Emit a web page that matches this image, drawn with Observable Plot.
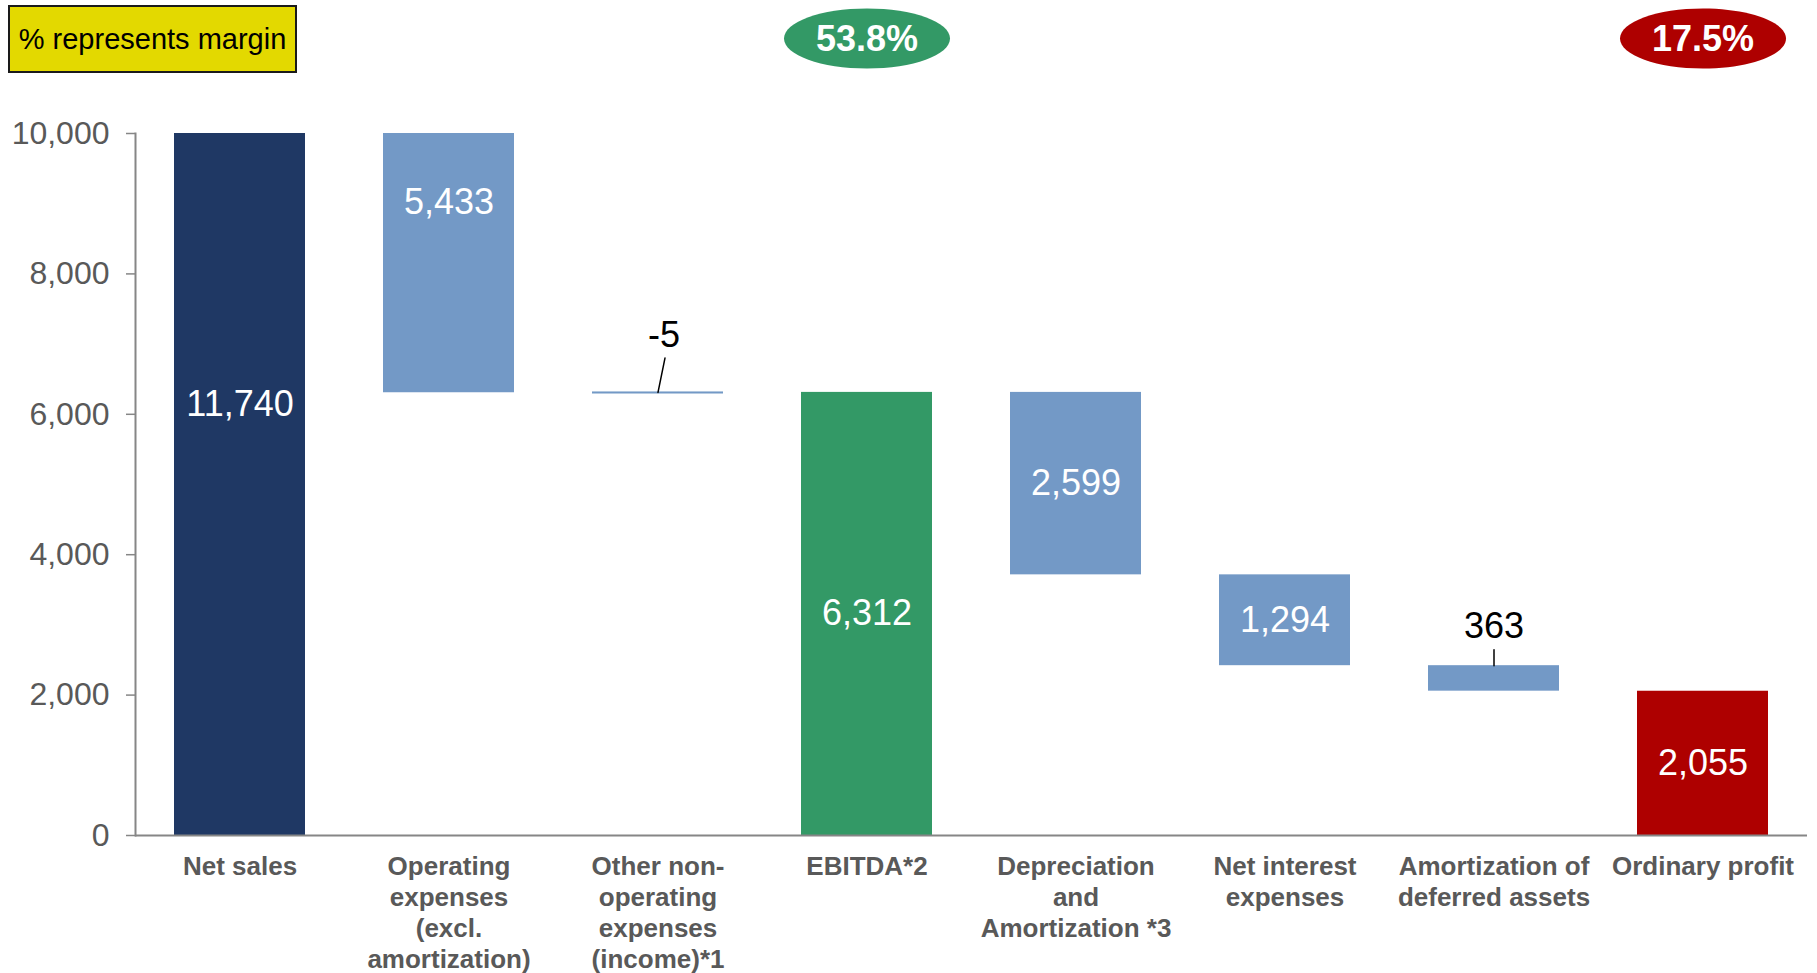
<!DOCTYPE html>
<html>
<head>
<meta charset="utf-8">
<script src="https://cdn.jsdelivr.net/npm/d3@7"></script>
<script src="https://cdn.jsdelivr.net/npm/@observablehq/plot@0.6"></script>
<style>
  html, body { margin: 0; padding: 0; background: #fff; }
  #wrap { position: relative; width: 1817px; height: 973px; font-family: "Liberation Sans", Arial, sans-serif; }
  #legend { position: absolute; left: 8px; top: 5px; width: 289px; height: 68px; box-sizing: border-box;
    border: 2px solid #1a1a1a; background: #E3D900; color: #000; font-size: 29px;
    display: flex; align-items: center; justify-content: center; }
</style>
</head>
<body>
<div id="wrap"><div id="legend">% represents margin</div></div>
<script>
// ---- data ----
const categories = [
  "Net sales",
  "Operating\nexpenses\n(excl.\namortization)",
  "Other non-\noperating\nexpenses\n(income)*1",
  "EBITDA*2",
  "Depreciation\nand\nAmortization *3",
  "Net interest\nexpenses",
  "Amortization of\ndeferred assets",
  "Ordinary profit"
];
const amounts = [11740, 5433, -5, 6312, 2599, 1294, 363, 2055];
const kinds = ["total", "expense", "expense", "subtotal", "expense", "expense", "expense", "result"];
const marginCategories = ["EBITDA*2", "Ordinary profit"];
const marginLabels = ["53.8%", "17.5%"];
const yTicks = [0, 2000, 4000, 6000, 8000, 10000];

// ---- styling (code, not data) ----
const palette = {total: "#1F3864", expense: "#7399C6", subtotal: "#339966", result: "#AE0000"};
const fmt = v => d3.format(",")(v).replace("\u2212", "-");

// waterfall
let running = 0;
const rows = categories.map((cat, i) => {
  let y1, y2;
  if (kinds[i] === "expense") { y1 = running; y2 = running - amounts[i]; running = y2; }
  else { y1 = 0; y2 = amounts[i]; running = amounts[i]; }
  return {cat, kind: kinds[i], y1, y2, mid: (y1 + y2) / 2, top: Math.max(y1, y2),
          label: fmt(amounts[i]), small: Math.abs(y2 - y1) < 500, tiny: Math.abs(y2 - y1) < 50, color: palette[kinds[i]]};
});
const inside = rows.filter(d => !d.small && d.kind !== "total");
const insideFirst = rows.filter(d => !d.small && d.kind === "total");
const callouts = rows.filter(d => d.small);
const calloutStyle = {
  [categories[2]]: {len: 35, angle: 11.5, dx: 6, dy: -45},
  [categories[6]]: {len: 16, angle: 0, dx: 0, dy: -28}
};
const marginRows = marginCategories.map((cat, i) => ({cat, label: marginLabels[i], color: rows.find(r => r.cat === cat).color}));

const ellipse = {draw(ctx) {
  const rx = 83, ry = 30, k = 0.5523;
  ctx.moveTo(rx, 0);
  ctx.bezierCurveTo(rx, ry * k, rx * k, ry, 0, ry);
  ctx.bezierCurveTo(-rx * k, ry, -rx, ry * k, -rx, 0);
  ctx.bezierCurveTo(-rx, -ry * k, -rx * k, -ry, 0, -ry);
  ctx.bezierCurveTo(rx * k, -ry, rx, -ry * k, rx, 0);
  ctx.closePath();
}};
const spike = {draw(ctx, l) { ctx.moveTo(0, 0); ctx.lineTo(0, -l); }};

const chart = Plot.plot({
  width: 1817,
  height: 973,
  marginTop: 133,
  marginBottom: 138,
  marginLeft: 135,
  marginRight: 10,
  style: {fontFamily: "'Liberation Sans', Arial, sans-serif", color: "#595959", background: "#fff"},
  x: {domain: categories, paddingInner: 0.373, paddingOuter: 0.1865, axis: null},
  y: {domain: [0, 10000], clamp: true, axis: null},
  color: {type: "identity"},
  marks: [
    Plot.barY(rows, {x: "cat", y1: "y1", y2: "y2", fill: "color"}),
    Plot.tickY(rows.filter(d => d.tiny), {x: "cat", y: "mid", stroke: "color", strokeWidth: 2}),
    Plot.axisY({ticks: yTicks, tickFormat: fmt, fontSize: 32, tickSize: 9, tickPadding: 17, stroke: "#868686", strokeWidth: 1.5, fill: "#595959", label: null}),
    Plot.frame({anchor: "left", stroke: "#868686", strokeWidth: 2}),
    Plot.ruleY([0], {stroke: "#868686", strokeWidth: 2}),
    Plot.text(categories, {x: d => d, text: d => d, frameAnchor: "bottom", lineAnchor: "top", dy: 17,
      fontSize: 26, fontWeight: "bold", fill: "#595959", lineHeight: 1.2}),
    Plot.text(inside, {x: "cat", y: "mid", text: "label", fill: "white", fontSize: 36, textAnchor: "middle", lineAnchor: "middle"}),
    Plot.text(insideFirst, {x: "cat", y: "mid", text: "label", fill: "white", fontSize: 36, textAnchor: "middle", lineAnchor: "middle", dy: -19}),
    ...callouts.map(d => {
      const s = calloutStyle[d.cat];
      return [
        Plot.vector([d], {x: "cat", y: "top", length: s.len, rotate: s.angle, anchor: "start", shape: spike, stroke: "#000", strokeWidth: 1.5}),
        Plot.text([d], {x: "cat", y: "top", text: "label", fill: "#000", fontSize: 36, textAnchor: "middle", lineAnchor: "bottom", dx: s.dx, dy: s.dy})
      ];
    }),
    Plot.dot(marginRows, {x: "cat", frameAnchor: "top", dy: -95, r: 10, symbol: ellipse, fill: "color", stroke: null}),
    Plot.text(marginRows, {x: "cat", frameAnchor: "top", dy: -94, text: "label", fill: "white", fontSize: 36, fontWeight: "bold", textAnchor: "middle", lineAnchor: "middle"})
  ]
});
document.getElementById("wrap").prepend(chart);
</script>
</body>
</html>
